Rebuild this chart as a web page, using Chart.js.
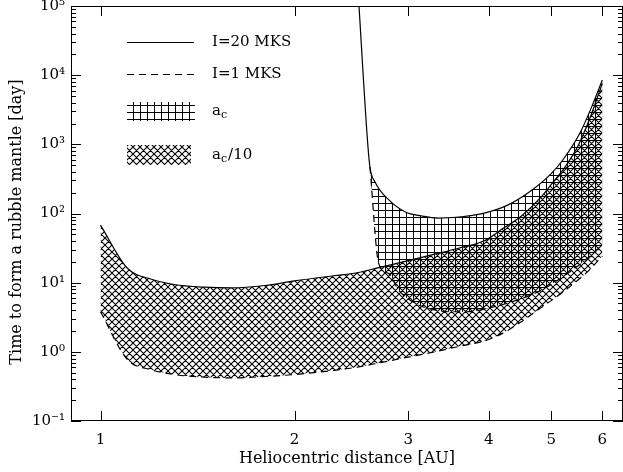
<!DOCTYPE html>
<html>
<head>
<meta charset="utf-8">
<script src="https://cdn.jsdelivr.net/npm/chart.js@4.4.1/dist/chart.umd.min.js"></script>
<style>
  html, body { margin: 0; padding: 0; background: #fff; }
  #wrap { width: 623px; height: 472px; }
</style>
</head>
<body>
<div id="wrap"><canvas id="chart" width="623" height="472"></canvas></div>
<script>
// a_c/10 band: heliocentric distance [AU] and mantle time [day]
const AU_AC10 = [1.0, 1.1, 1.2, 1.3, 1.45, 1.6, 1.8, 2.0, 2.3, 2.5, 2.7, 3.0, 3.3, 3.6, 3.95, 4.2, 4.5, 4.8, 5.0, 5.25, 5.5, 5.75, 6.0];
const T_AC10_I20 = [68, 16.3, 11.2, 9.4, 8.6, 8.4, 9.1, 10.6, 12.6, 13.9, 16.5, 20.8, 25.8, 31.7, 41, 60, 93, 165, 263, 469, 946, 2500, 7600];
const T_AC10_I1 = [3.8, 0.78, 0.55, 0.47, 0.43, 0.42, 0.44, 0.47, 0.54, 0.6, 0.69, 0.84, 1.0, 1.2, 1.45, 1.85, 2.75, 4.24, 5.5, 7.7, 10.9, 15.8, 24.3];

// a_c band
const AU_AC_I20 = [2.51, 2.594, 2.617, 2.67, 2.8, 2.97, 3.15, 3.34, 3.6, 3.95, 4.27, 4.64, 5.0, 5.21, 5.54, 5.81, 6.0];
const T_AC_I20 = [150000, 1150, 470, 276, 157, 105, 92, 86, 89, 102, 131, 210, 378, 594, 1460, 3960, 8500];
const AU_AC_I1 = [2.617, 2.70, 2.80, 2.90, 3.08, 3.27, 3.46, 3.7, 4.0, 4.4, 4.8, 5.2, 5.6, 6.0];
const T_AC_I1 = [470, 19, 13.5, 7.8, 5.0, 4.1, 3.8, 3.8, 4.3, 5.5, 7.6, 12, 20, 35];

const X_TICKS = [1, 2, 3, 4, 5, 6];
const Y_TICKS = [0.1, 1, 10, 100, 1e3, 1e4, 1e5];
const Y_TICK_LABELS = ['10⁻¹', '10⁰', '10¹', '10²', '10³', '10⁴', '10⁵'];
const Y_TITLE = 'Time to form a rubble mantle [day]';

Chart.defaults.font.family = "'DejaVu Serif', serif";
Chart.defaults.font.size = 15;
Chart.defaults.color = '#000';

function makePattern(kind) {
  const s = 7;
  const c = document.createElement('canvas');
  c.width = s; c.height = s;
  const g = c.getContext('2d');
  g.strokeStyle = '#000';
  g.lineWidth = kind === 'grid' ? 1 : 1.1;
  g.beginPath();
  if (kind === 'grid') {
    g.moveTo(0.5, 0); g.lineTo(0.5, s);
    g.moveTo(0, 0.5); g.lineTo(s, 0.5);
  } else {
    for (let k = -1; k <= 1; k++) {
      g.moveTo(k * s, 0); g.lineTo(k * s + s, s);
      g.moveTo(k * s + s, 0); g.lineTo(k * s, s);
    }
  }
  g.stroke();
  return g.createPattern(c, 'repeat');
}
const gridFill = makePattern('grid');
const diamondFill = makePattern('diamond');

const pts = (xs, ys) => xs.map((x, i) => ({ x, y: ys[i] }));

// box, inward ticks on all four sides, y title and the legend
const frame = {
  id: 'frame',
  afterDraw(chart) {
    const { ctx, chartArea: a, scales: { x, y } } = chart;
    ctx.save();
    ctx.strokeStyle = '#000';
    ctx.lineWidth = 1;
    ctx.strokeRect(a.left + 0.5, a.top + 0.5, a.right - a.left - 1, a.bottom - a.top - 1);
    ctx.beginPath();
    X_TICKS.forEach(v => {
      const px = Math.round(x.getPixelForValue(v)) + 0.5;
      ctx.moveTo(px, a.bottom); ctx.lineTo(px, a.bottom - 10);
      ctx.moveTo(px, a.top); ctx.lineTo(px, a.top + 10);
    });
    Y_TICKS.forEach(d => {
      for (let m = 1; m <= 9; m++) {
        const v = d * m;
        if (v > 1e5 * 1.001) break;
        const len = m === 1 ? 10 : 5;
        const py = Math.round(y.getPixelForValue(v)) + 0.5;
        ctx.moveTo(a.left, py); ctx.lineTo(a.left + len, py);
        ctx.moveTo(a.right, py); ctx.lineTo(a.right - len, py);
      }
    });
    ctx.stroke();

    ctx.fillStyle = '#000';
    ctx.textAlign = 'center';
    ctx.textBaseline = 'middle';
    ctx.font = "16px 'DejaVu Serif'";
    ctx.save();
    ctx.translate(17, 222);
    ctx.rotate(-Math.PI / 2);
    ctx.fillText(Y_TITLE, 0, 0);
    ctx.restore();

    // legend
    const lx0 = 127, lx1 = 194, tx = 212;
    ctx.lineWidth = 1.2;
    ctx.beginPath(); ctx.moveTo(lx0, 42.5); ctx.lineTo(lx1, 42.5); ctx.stroke();
    ctx.setLineDash([7, 5]);
    ctx.beginPath(); ctx.moveTo(lx0, 74.5); ctx.lineTo(lx1, 74.5); ctx.stroke();
    ctx.setLineDash([]);
    ctx.fillStyle = gridFill;
    ctx.fillRect(lx0, 102, 68, 19);
    ctx.fillStyle = diamondFill;
    ctx.fillRect(lx0, 145, 64, 20);

    ctx.fillStyle = '#000';
    ctx.textAlign = 'left';
    ctx.font = "15px 'DejaVu Serif'";
    ctx.fillText('I=20 MKS', tx, 42);
    ctx.fillText('I=1 MKS', tx, 74);
    const sub = (yy, rest) => {
      ctx.font = "15px 'DejaVu Serif'";
      ctx.fillText('a', tx, yy);
      const w = ctx.measureText('a').width;
      ctx.font = "11px 'DejaVu Serif'";
      ctx.fillText('c', tx + w, yy + 4);
      const w2 = ctx.measureText('c').width;
      if (rest) {
        ctx.font = "15px 'DejaVu Serif'";
        ctx.fillText(rest, tx + w + w2 + 1, yy);
      }
    };
    sub(111, '');
    sub(155, '/10');
    ctx.restore();
  }
};

new Chart(document.getElementById('chart'), {
  type: 'line',
  data: {
    datasets: [
      { data: pts(AU_AC10, T_AC10_I20), fill: 1, backgroundColor: diamondFill },
      { data: pts(AU_AC10, T_AC10_I1), borderDash: [7, 5], fill: false },
      { data: pts(AU_AC_I20, T_AC_I20), fill: 3, backgroundColor: gridFill },
      { data: pts(AU_AC_I1, T_AC_I1), borderDash: [7, 5], fill: false },
    ]
  },
  options: {
    responsive: false,
    animation: false,
    layout: { padding: 0 },
    plugins: { legend: { display: false }, tooltip: { enabled: false } },
    elements: {
      point: { radius: 0 },
      line: { borderColor: '#000', borderWidth: 1.2, cubicInterpolationMode: 'monotone' }
    },
    scales: {
      x: {
        type: 'logarithmic', min: 0.9, max: 6.46,
        grid: { display: false, drawTicks: false },
        border: { display: false },
        ticks: { padding: 10, autoSkip: false, maxRotation: 0, callback: v => String(v) },
        afterBuildTicks: s => { s.ticks = X_TICKS.map(v => ({ value: v })); },
        afterFit: s => { s.height = 51; s.paddingLeft = 0; s.paddingRight = 0; },
        title: { display: true, text: 'Heliocentric distance [AU]', font: { size: 16 }, padding: { top: 0, bottom: 4 } }
      },
      y: {
        type: 'logarithmic', min: 0.1, max: 1e5,
        grid: { display: false, drawTicks: false },
        border: { display: false },
        ticks: { padding: 6, autoSkip: false, callback: (v, i) => Y_TICK_LABELS[i] },
        afterBuildTicks: s => { s.ticks = Y_TICKS.map(v => ({ value: v })); },
        afterFit: s => { s.width = 71; s.paddingTop = 6; s.paddingBottom = 0; },
        title: { display: false }
      }
    }
  },
  plugins: [frame]
});
</script>
</body>
</html>
